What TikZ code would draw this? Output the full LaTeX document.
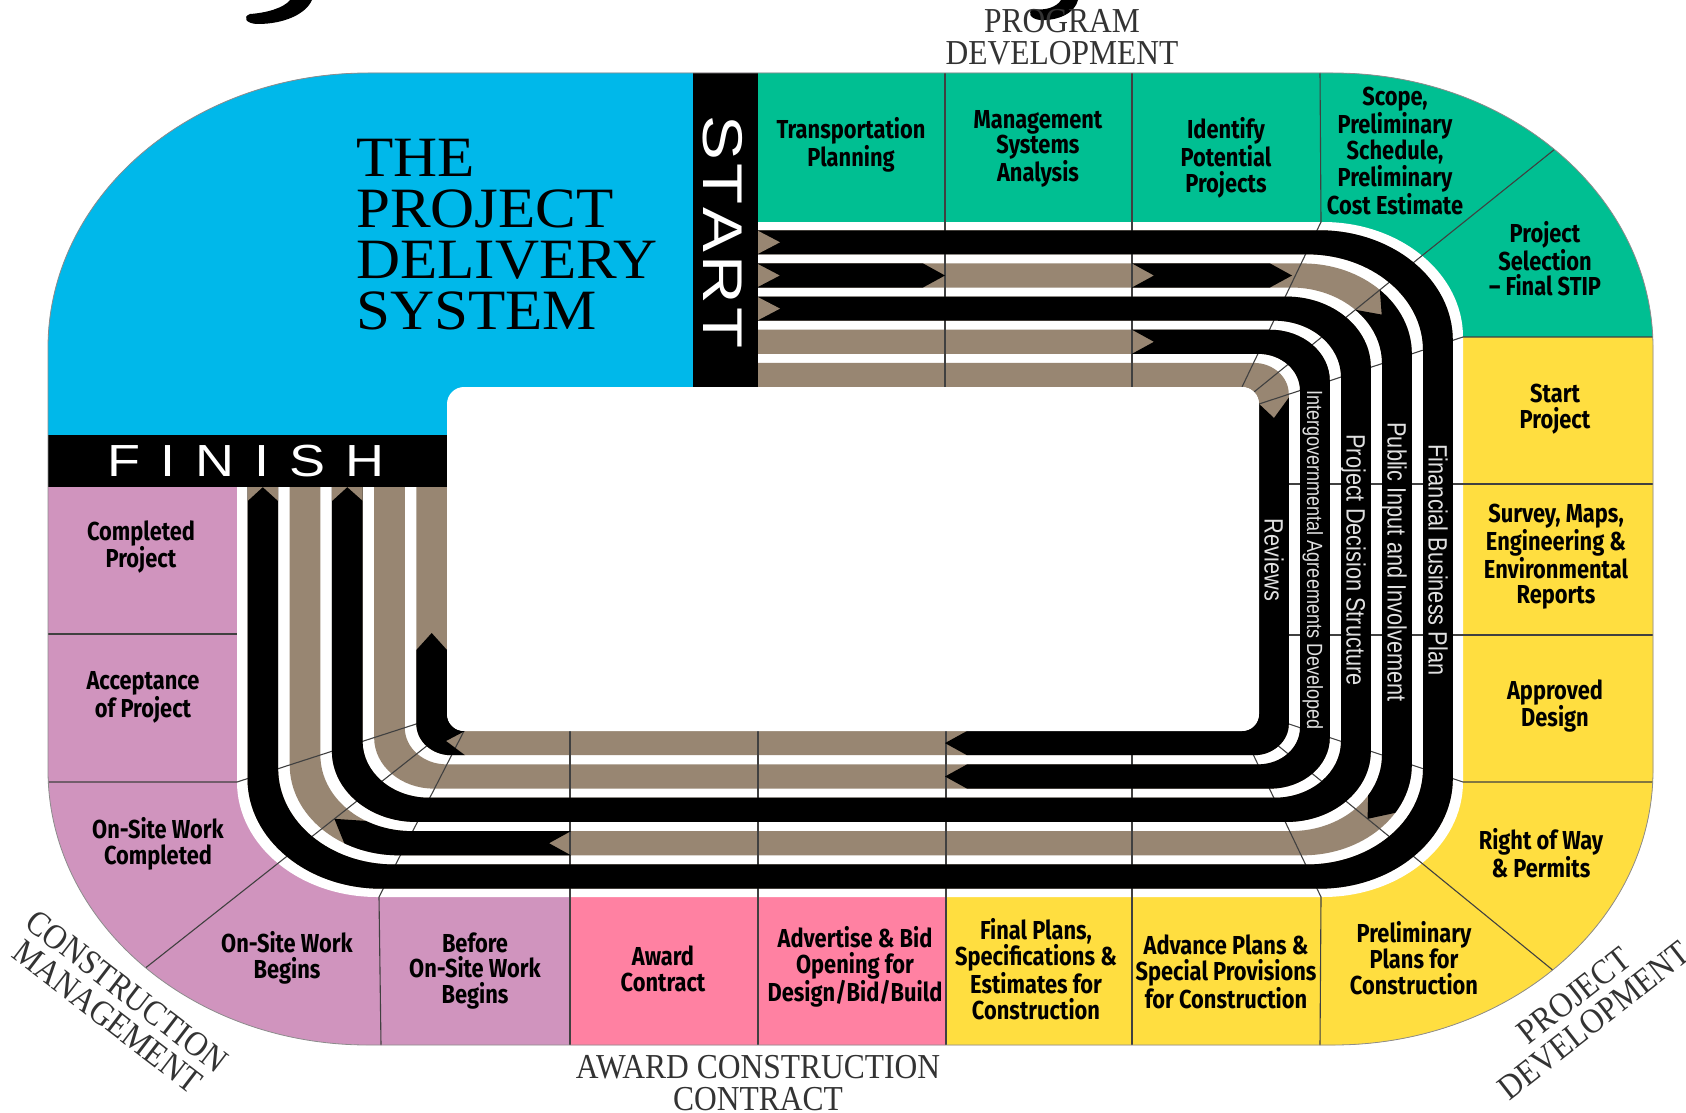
\documentclass[tikz,border=0pt]{standalone}
\usepackage{fontspec}
\setmainfont{Liberation Sans}
\newfontfamily\cellfont{Fira Sans}[FakeStretch=0.84]
\newfontfamily\trackfont{Liberation Sans}[FakeStretch=0.82]
\newfontfamily\widefont{Liberation Sans}[FakeStretch=1.2]
\newfontfamily\labfont{Liberation Serif}[FakeStretch=0.9]
\newfontfamily\titfont{Liberation Serif}[FakeStretch=1.07]
\definecolor{cyanc}{RGB}{0,184,234}
\definecolor{greenc}{RGB}{0,191,146}
\definecolor{yellowc}{RGB}{255,222,64}
\definecolor{lilacc}{RGB}{208,148,190}
\definecolor{rosec}{RGB}{255,129,162}
\definecolor{brownc}{RGB}{152,134,114}
\newcommand\rrp[1]{({377+87*(#1)},{222+165*(#1)}) -- ({1323-81*(#1)},{222+165*(#1)})
 arc[start angle=-90,end angle=0,x radius={140-123*(#1)},y radius={115-98*(#1)}]
 -- ({1463-204*(#1)},{782-68*(#1)})
 arc[start angle=0,end angle=90,x radius={140-123*(#1)},y radius={115-98*(#1)}]
 -- ({377+87*(#1)},{897-166*(#1)})
 arc[start angle=90,end angle=180,x radius={140-123*(#1)},y radius={115-98*(#1)}]
 -- ({237+210*(#1)},{337+67*(#1)})
 arc[start angle=180,end angle=270,x radius={140-123*(#1)},y radius={115-98*(#1)}] -- cycle}
\newcommand\rrn[1]{({377+87*(#1)},{222+165*(#1)})
 arc[start angle=270,end angle=180,x radius={140-123*(#1)},y radius={115-98*(#1)}]
 -- ({237+210*(#1)},{782-68*(#1)})
 arc[start angle=180,end angle=90,x radius={140-123*(#1)},y radius={115-98*(#1)}]
 -- ({1323-81*(#1)},{897-166*(#1)})
 arc[start angle=90,end angle=0,x radius={140-123*(#1)},y radius={115-98*(#1)}]
 -- ({1463-204*(#1)},{337+67*(#1)})
 arc[start angle=0,end angle=-90,x radius={140-123*(#1)},y radius={115-98*(#1)}] -- cycle}
\newcommand\TRp[2]{({1323-81*(#1)+(140-123*(#1))*cos(#2)},{337+67*(#1)+(115-98*(#1))*sin(#2)})}
\newcommand\BRp[2]{({1323-81*(#1)+(140-123*(#1))*cos(#2)},{782-68*(#1)+(115-98*(#1))*sin(#2)})}
\newcommand\BLp[2]{({377+87*(#1)+(140-123*(#1))*cos(#2)},{782-68*(#1)+(115-98*(#1))*sin(#2)})}
\newcommand\outerp{(368,73) -- (1333,73) arc[start angle=-90,end angle=0,x radius=320,y radius=275] -- (1653,770) arc[start angle=0,end angle=90,x radius=320,y radius=275] -- (368,1045) arc[start angle=90,end angle=180,x radius=320,y radius=275] -- (48,348) arc[start angle=180,end angle=270,x radius=320,y radius=275] -- cycle}
\newcommand\lshape{(758,0) -- (1700,0) -- (1700,1120) -- (0,1120) -- (0,487) -- (758,487) -- cycle}
\begin{document}
\begin{tikzpicture}[x=1pt,y=-1pt,line join=round,
  divider/.style={draw=black!75,line width=1.1pt},
  celltxt/.style={font=\cellfont\bfseries\fontsize{26}{25.5}\selectfont,align=center,inner sep=0pt,text=black},
  trk/.style={font=\trackfont\fontsize{26.5}{28}\selectfont,text=white!88!black,rotate=-90,inner sep=0pt,text height=19pt,text depth=0pt},
  lab/.style={font=\labfont\fontsize{35}{32}\selectfont,align=center,text=black!80,inner sep=0pt}]
\useasboundingbox (0,0) rectangle (1686,1113);
\fill[white] (0,0) rectangle (1686,1113);
% remnants of the cut-off script title at the top edge
\fill[black] (312,0) .. controls (306,14) and (284,24) .. (258,24) .. controls (246,24) and (242,17) .. (250,14) .. controls (266,13) and (284,8) .. (290,0) -- cycle;
\fill[black] (1078,0) .. controls (1075,13) and (1058,21) .. (1040,20) .. controls (1030,19) and (1027,12) .. (1033,9) .. controls (1045,11) and (1057,7) .. (1061,0) -- cycle;
\begin{scope}
  \clip \outerp;
  \fill[lilacc] (0,0) rectangle (1686,1113);
  \fill[cyanc] (40,60) rectangle (693,435);
  \fill[black] (693,60) rectangle (758,387);
  \fill[black] (40,435) rectangle (448,487);
  \fill[greenc] (758,60) rectangle (1660,337);
  \fill[yellowc] (1463,337) rectangle (1660,1050);
  \fill[yellowc] (946,897) rectangle (1660,1050);
  \fill[yellowc] (1250,700) rectangle (1660,1050);
  \fill[rosec] (570,897) rectangle (946,1050);
  \begin{scope}
    \clip \lshape;
    \fill[white] \rrp{0};
    \foreach \fa/\fb in {0.05/0.196,0.251/0.397,0.452/0.598,0.653/0.799,0.854/1}{
      \fill[brownc] \rrp{\fa} \rrn{\fb};
    }
  \end{scope}
  % dividers
  \draw[divider] (945,73) -- (945,387);
  \draw[divider] (1132,73) -- (1132,387);
  \draw[divider] (1320,73) -- (1321,222) -- \TRp{1}{-90};
  \draw[divider] (1565,141) -- \TRp{0}{-45} -- \TRp{1}{-45};
  \draw[divider] (1653,337) -- \TRp{0}{0} -- \TRp{1}{0};
  \draw[divider] (1653,484) -- (1259,484);
  \draw[divider] (1653,635) -- (1259,635);
  \draw[divider] (1653,782) -- \BRp{0}{0} -- \BRp{1}{0};
  \draw[divider] (1560,976) -- \BRp{0}{45} -- \BRp{1}{45};
  \draw[divider] (1320,1045) -- (1321,897) -- \BRp{1}{90};
  \draw[divider] (1132,1045) -- (1132,731);
  \draw[divider] (946,1045) -- (946,731);
  \draw[divider] (758,1045) -- (758,731);
  \draw[divider] (570,1045) -- (570,731);
  \draw[divider] (381,1045) -- (379,897) -- \BLp{1}{90};
  \draw[divider] (134,977) -- \BLp{0}{135} -- \BLp{1}{135};
  \draw[divider] (48,782) -- \BLp{0}{180} -- \BLp{1}{180};
  \draw[divider] (48,634) -- (237,634);
  % black segments
  \begin{scope}
    \clip \lshape;
    \begin{scope}
      \clip \rrp{0.05} \rrn{0.196};
      \fill[black] (0,0) rectangle (1700,1120);
      \fill[brownc] (757,230.25) -- (780,242.3) -- (757,254.34) -- cycle;
      \fill[brownc] (240,480) -- (262.8,480) -- (262.8,487) -- (240,507.9) -- cycle;
      \fill[brownc] (262.8,480) -- (285,480) -- (285,507.2) -- (262.8,487) -- cycle;
    \end{scope}
    \begin{scope}
      \clip \rrp{0.452} \rrn{0.598};
      \fill[black] (0,0) rectangle (1700,1120);
      \fill[brownc] (757,296.6) -- (780,308.6) -- (757,320.7) -- cycle;
      \fill[brownc] (325,480) -- (347.3,480) -- (347.3,487) -- (325,507.3) -- cycle;
      \fill[brownc] (347.3,480) -- (370,480) -- (370,507.3) -- (347.3,487) -- cycle;
    \end{scope}
    \begin{scope}
      \clip \rrp{0.251} \rrn{0.397};
      \fill[black] (757,255) -- (923,255) -- (923,263.4) -- (945,275.5) -- (923,287.5) -- (923,296) -- (757,296) -- (757,287.5) -- (780,275.5) -- (757,263.4) -- cycle;
      \fill[black] (1132,255) -- (1270,255) -- (1270,263.4) -- (1292,275.5) -- (1270,287.5) -- (1270,296) -- (1132,296) -- (1132,287.5) -- (1154,275.5) -- (1132,263.4) -- cycle;
      \fill[black] \TRp{0.15}{-45} -- \TRp{0.251}{-45} -- \TRp{0.324}{-32} -- \TRp{0.397}{-45} -- \TRp{0.5}{-45} -- (1250,420) -- (1250,700) -- \BRp{0.5}{32} -- \BRp{0.397}{32} -- \BRp{0.324}{45} -- \BRp{0.251}{32} -- \BRp{0.15}{32} -- (1480,900) -- (1480,200) -- cycle;
      \fill[black] (571,815) -- (571,831.1) -- (549,843.2) -- (571,855.3) -- (571,900) -- \BLp{0.1}{120} -- \BLp{0.251}{120} -- \BLp{0.324}{135} -- \BLp{0.397}{120} -- \BLp{0.5}{120} -- cycle;
    \end{scope}
    \begin{scope}
      \clip \rrp{0.653} \rrn{0.799};
      \fill[black] (1132,300) -- (1132,329.7) -- (1154,341.8) -- (1132,353.8) -- (1132,380) -- (1150,700) -- (967,740) -- (967,764.4) -- (945,776.5) -- (967,788.6) -- (967,830) -- (1400,830) -- (1400,300) -- cycle;
    \end{scope}
    \begin{scope}
      \clip \rrp{0.854} \rrn{1};
      \fill[black] (1300,396) -- (1290,396) -- (1274,418) -- (1257,402) -- (1240,402) -- (1240,700) -- (967,710) -- (967,731) -- (945,743.1) -- (967,755.2) -- (967,765) -- (1300,765) -- cycle;
      \fill[black] (465,720) -- (465,731) -- (446,741) -- (465,755.2) -- (465,770) -- (400,770) -- (400,650) -- (416.3,650) -- (431.7,633) -- (447,650) -- (460,650) -- cycle;
    \end{scope}
  \end{scope}
\end{scope}
\fill[white] \rrp{1};
\draw[black!45,line width=0.8pt] \outerp;
% band labels
\node[trk] (lb1) at (1438,560) {Financial Business Plan};
\node[trk] (lb2) at (1397,562) {Public Input and Involvement};
\node[trk] (lb3) at (1356,560) {Project Decision Structure};
\node[trk,font=\trackfont\fontsize{22}{24}\selectfont,text height=15.8pt] (lb4) at (1315,560) {Intergovernmental Agreements Developed};
\node[trk] (lb5) at (1274,560) {Reviews};
% start / finish / title
\node[font=\widefont\fontsize{56}{56}\selectfont,text=white,rotate=-90,inner sep=0pt,text height=40.3pt,text depth=0pt] (start) at (724,232) {S\kern3pt T\kern3pt A\kern3pt R\kern3pt T};
\node[font=\widefont\fontsize{45}{45}\selectfont,text=white,inner sep=0pt,text height=32.4pt,text depth=0pt] (finish) at (246,460) {F\kern20pt I\kern20pt N\kern20pt I\kern20pt S\kern20pt H};
\node[font=\titfont\fontsize{57}{51}\selectfont,align=left,anchor=west,inner sep=0pt] (title) at (356,235) {THE\\PROJECT\\DELIVERY\\SYSTEM};
% cell texts
\node[celltxt] (c1) at (851,145) {Transportation\\Planning};
\node[celltxt] (c2) at (1038,149) {Management\\Systems\\Analysis};
\node[celltxt] (c3) at (1226,158) {Identify\\Potential\\Projects};
\node[celltxt] (c4) at (1395,151) {Scope,\\Preliminary\\Schedule,\\Preliminary\\Cost Estimate};
\node[celltxt] (c5) at (1545,259) {Project\\Selection\\– Final STIP};
\node[celltxt] (c6) at (1555,409) {Start\\Project};
\node[celltxt] (c7) at (1556,557) {Survey, Maps,\\Engineering \&\\Environmental\\Reports};
\node[celltxt] (c8) at (1555,706) {Approved\\Design};
\node[celltxt] (c9) at (1541,853) {Right of Way\\\& Permits};
\node[celltxt] (c10) at (1414,958) {Preliminary\\Plans for\\Construction};
\node[celltxt] (c11) at (1226,972) {Advance Plans \&\\Special Provisions\\for Construction};
\node[celltxt] (c12) at (1036,969) {Final Plans,\\Specifications \&\\Estimates for\\Construction};
\node[celltxt] (c13) at (855,967) {Advertise \& Bid\\Opening for\\Design/Bid/Build};
\node[celltxt] (c14) at (663,969) {Award\\Contract};
\node[celltxt] (c15) at (475,971) {Before\\On-Site Work\\Begins};
\node[celltxt] (c16) at (287,958) {On-Site Work\\Begins};
\node[celltxt] (c17) at (158,844) {On-Site Work\\Completed};
\node[celltxt] (c18) at (143,697) {Acceptance\\of Project};
\node[celltxt] (c19) at (141,547) {Completed\\Project};
% phase labels
\node[lab] (p1) at (1062,37) {PROGRAM\\DEVELOPMENT};
\node[lab] (p2) at (758,1083) {AWARD CONSTRUCTION\\CONTRACT};
\node[lab,rotate=-37.5] (p3) at (117,1004) {CONSTRUCTION\\MANAGEMENT};
\node[lab,rotate=38] (p4) at (1584,1008) {PROJECT\\DEVELOPMENT};
\end{tikzpicture}
\end{document}
